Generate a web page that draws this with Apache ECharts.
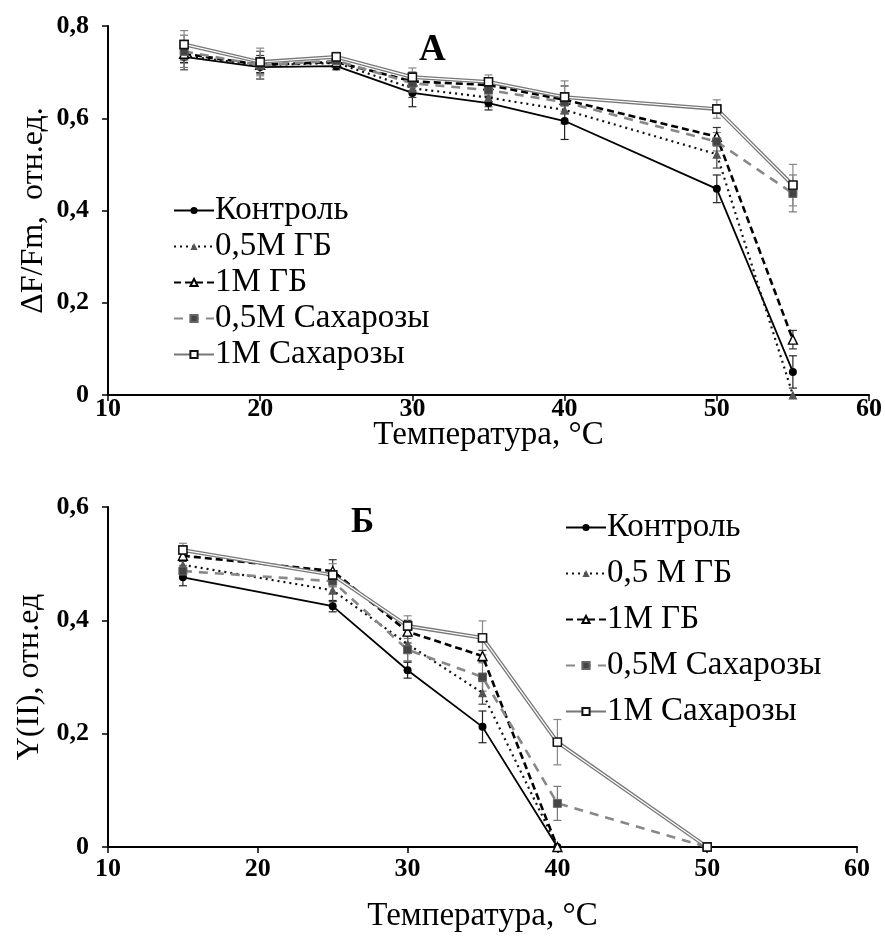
<!DOCTYPE html>
<html>
<head>
<meta charset="utf-8">
<script src="https://cdn.jsdelivr.net/npm/echarts@6/dist/echarts.min.js"></script>
<style>
  html, body { margin: 0; padding: 0; background: #fff; }
  #chart { width: 885px; height: 942px; }
</style>
</head>
<body>
<div id="chart"></div>
<script>
// Panel А: ΔF/Fm vs temperature
const tempA = [15, 20, 25, 30, 35, 40, 50, 55];
const ctrlA   = [0.733, 0.711, 0.713, 0.655, 0.633, 0.594, 0.447, 0.05];
const gb05A   = [0.735, 0.715, 0.720, 0.665, 0.645, 0.618, 0.522, 0];
const gb1A    = [0.740, 0.716, 0.722, 0.680, 0.672, 0.640, 0.560, 0.12];
const suc05A  = [0.745, 0.715, 0.725, 0.676, 0.661, 0.635, 0.549, 0.437];
const suc1A   = [0.760, 0.722, 0.733, 0.689, 0.679, 0.646, 0.620, 0.455];
const ctrlErrA  = [0.012, 0.012, 0.008, 0.030, 0.015, 0.040, 0.030, 0.035];
const gb05ErrA  = [0.030, 0.030, 0.010, 0.020, 0.020, 0.030, 0.030, 0];
const gb1ErrA   = [0.020, 0.020, 0.010, 0.020, 0.015, 0.030, 0.020, 0.020];
const suc05ErrA = [0.035, 0.030, 0.010, 0.020, 0.015, 0.020, 0.020, 0.040];
const suc1ErrA  = [0.030, 0.030, 0.010, 0.020, 0.015, 0.035, 0.020, 0.045];

// Panel Б: Y(II) vs temperature
const tempB = [15, 25, 30, 35, 40, 50];
const ctrlB   = [0.476, 0.425, 0.312, 0.212, 0];
const gb05B   = [0.498, 0.453, 0.358, 0.272, 0];
const gb1B    = [0.514, 0.487, 0.380, 0.337, 0];
const suc05B  = [0.487, 0.469, 0.348, 0.300, 0.077, 0];
const suc1B   = [0.524, 0.480, 0.390, 0.369, 0.185, 0];
const ctrlErrB  = [0.015, 0.010, 0.014, 0.028, 0];
const gb05ErrB  = [0.010, 0.020, 0.030, 0.020, 0];
const gb1ErrB   = [0.010, 0.020, 0.020, 0.010, 0];
const suc05ErrB = [0.010, 0.010, 0.020, 0.025, 0.030, 0];
const suc1ErrB  = [0.012, 0.020, 0.018, 0.030, 0.040, 0];

const namesA = ['Контроль', '0,5М ГБ', '1М ГБ', '0,5М Сахарозы', '1М Сахарозы'];
const namesB = ['Контроль', '0,5 М ГБ', '1М ГБ', '0,5М Сахарозы', '1М Сахарозы'];

const SERIF = '"Liberation Serif", "DejaVu Serif", serif';

const styles = [
  { line: { color: '#000', width: 1.8, type: 'solid' }, symbol: 'circle', size: 8, item: { color: '#000' }, err: '#222' },
  { line: { color: '#111', width: 2.2, type: [2, 4] }, symbol: 'triangle', size: 9, item: { color: '#555' }, err: '#444' },
  { line: { color: '#000', width: 2.6, type: [7, 4] }, symbol: 'triangle', size: 9, item: { color: '#fff', borderColor: '#000', borderWidth: 1.4 }, err: '#333' },
  { line: { color: '#888', width: 2.6, type: [9, 7] }, symbol: 'rect', size: 8, item: { color: '#444', borderColor: '#666', borderWidth: 1 }, err: '#777' },
  { line: { color: '#777', width: 3.8, type: 'solid' }, symbol: 'rect', size: 8, item: { color: '#fff', borderColor: '#111', borderWidth: 1.4 }, err: '#888' }
];

function pairs(t, v, e) {
  return v.map((y, i) => [t[i], y, e ? e[i] : 0]);
}

function errBars(color) {
  return function (params, api) {
    const x = api.value(0), y = api.value(1), e = api.value(2);
    if (!e) return null;
    const hi = api.coord([x, y + e]);
    const lo = api.coord([x, y - e]);
    const c = 4;
    const st = { stroke: color, lineWidth: 1.2 };
    return {
      type: 'group',
      children: [
        { type: 'line', shape: { x1: hi[0], y1: hi[1], x2: lo[0], y2: lo[1] }, style: st },
        { type: 'line', shape: { x1: hi[0] - c, y1: hi[1], x2: hi[0] + c, y2: hi[1] }, style: st },
        { type: 'line', shape: { x1: lo[0] - c, y1: lo[1], x2: lo[0] + c, y2: lo[1] }, style: st }
      ]
    };
  };
}

function buildPanel(idx, temps, values, errs, names) {
  const out = [];
  values.forEach((vals, k) => {
    const s = styles[k];
    out.push({
      type: 'custom',
      name: 'err' + idx + '_' + k,
      xAxisIndex: idx, yAxisIndex: idx,
      renderItem: errBars(s.err),
      data: pairs(temps, vals, errs[k]),
      encode: { x: 0, y: 1 },
      z: 1, silent: true
    });
    out.push({
      type: 'line',
      name: names[k],
      xAxisIndex: idx, yAxisIndex: idx,
      data: pairs(temps, vals),
      symbol: s.symbol, symbolSize: s.size,
      showAllSymbol: true,
      lineStyle: s.line,
      itemStyle: s.item,
      z: 3, animation: false
    });
    if (k === 4) {
      // thin white core that turns the grey line into a double stroke
      out.push({
        type: 'line',
        name: names[k],
        xAxisIndex: idx, yAxisIndex: idx,
        data: pairs(temps, vals),
        symbol: s.symbol, symbolSize: s.size,
        showAllSymbol: true,
        lineStyle: { color: '#fff', width: 1.2 },
        itemStyle: s.item,
        z: 4, animation: false
      });
    }
  });
  return out;
}

const commaFmt = v => String(v).replace('.', ',');

function xAxis(idx, gap, labelMargin) {
  return {
    type: 'value', gridIndex: idx, min: 10, max: 60, interval: 10,
    name: 'Температура, °C', nameLocation: 'middle', nameGap: gap,
    nameMoveOverlap: false,
    nameTextStyle: { fontFamily: SERIF, fontSize: 33, color: '#000' },
    axisLine: { show: true, lineStyle: { color: '#000', width: 2 } },
    axisTick: { show: true, inside: false, length: 6, lineStyle: { color: '#000', width: 1.5 } },
    axisLabel: { fontFamily: SERIF, fontWeight: 'bold', fontSize: 26, color: '#000', margin: labelMargin },
    splitLine: { show: false }
  };
}

function yAxis(idx, max, interval, name, gap) {
  return {
    type: 'value', gridIndex: idx, min: 0, max: max, interval: interval,
    name: name, nameLocation: 'middle', nameGap: gap, nameRotate: 90,
    nameMoveOverlap: false,
    nameTextStyle: { fontFamily: SERIF, fontSize: 32, color: '#000' },
    axisLine: { show: true, lineStyle: { color: '#000', width: 2 } },
    axisTick: { show: true, inside: false, length: 6, lineStyle: { color: '#000', width: 1.5 } },
    axisLabel: { fontFamily: SERIF, fontWeight: 'bold', fontSize: 26, color: '#000', margin: 19, formatter: commaFmt },
    splitLine: { show: false }
  };
}

function legend(left, top, names, gap) {
  return {
    orient: 'vertical', left: left, top: top,
    data: names, selectedMode: false,
    itemWidth: 40, itemHeight: 9, itemGap: gap,
    textStyle: { fontFamily: SERIF, fontSize: 33, lineHeight: 30, color: '#000', padding: [0, 0, 0, -4] }
  };
}

const chart = echarts.init(document.getElementById('chart'), null, { renderer: 'canvas' });
chart.setOption({
  animation: false,
  backgroundColor: '#fff',
  title: [
    { text: 'А', left: 414, top: 27, textStyle: { fontFamily: SERIF, fontWeight: 'bold', fontSize: 37, color: '#000' } },
    { text: 'Б', left: 346, top: 500, textStyle: { fontFamily: SERIF, fontWeight: 'bold', fontSize: 35, color: '#000' } }
  ],
  grid: [
    { left: 108, right: 14, top: 26, height: 369 },
    { left: 108, right: 28, top: 507, height: 340 }
  ],
  xAxis: [xAxis(0, 24, 1), xAxis(1, 53, 9)],
  yAxis: [
    yAxis(0, 0.8, 0.2, 'ΔF/Fm,  отн.ед.', 58),
    yAxis(1, 0.6, 0.2, 'Y(II), отн.ед', 62)
  ],
  legend: [legend(168, 189, namesA, 3), legend(560, 506, namesB, 13)],
  series: [
    ...buildPanel(0, tempA, [ctrlA, gb05A, gb1A, suc05A, suc1A], [ctrlErrA, gb05ErrA, gb1ErrA, suc05ErrA, suc1ErrA], namesA),
    ...buildPanel(1, tempB, [ctrlB, gb05B, gb1B, suc05B, suc1B], [ctrlErrB, gb05ErrB, gb1ErrB, suc05ErrB, suc1ErrB], namesB)
  ]
});
</script>
</body>
</html>
